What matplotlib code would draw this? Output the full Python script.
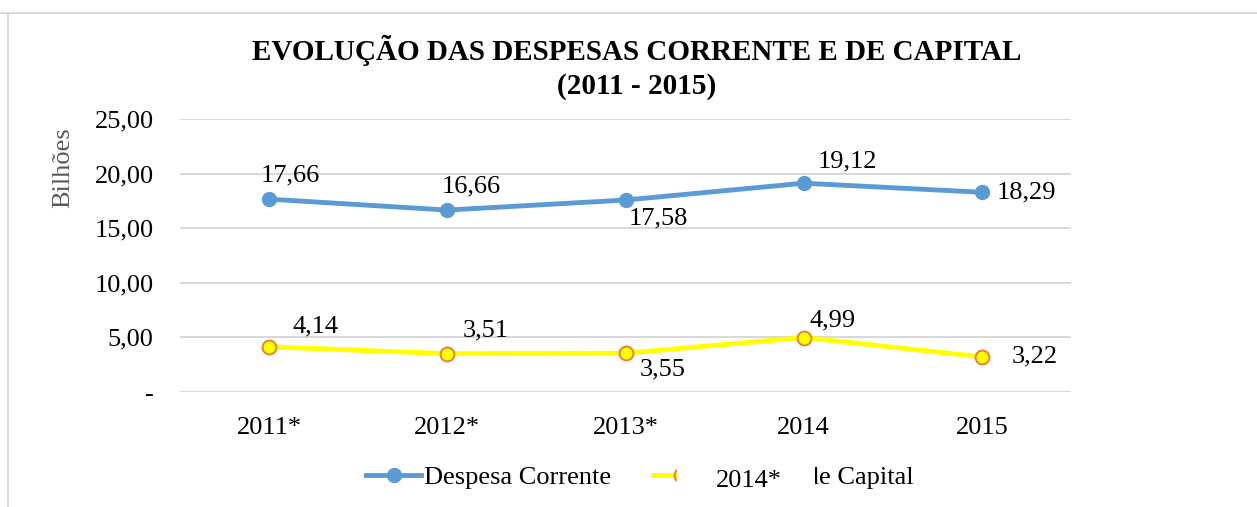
import numpy as np
import matplotlib
matplotlib.use("Agg")
import matplotlib.pyplot as plt
from matplotlib.lines import Line2D
from matplotlib.patches import Rectangle

# Data (billions)
anos = ["2011*", "2012*", "2013*", "2014", "2015"]
corrente = [17.66, 16.66, 17.58, 19.12, 18.29]
capital = [4.14, 3.51, 3.55, 4.99, 3.22]
yticks = [0, 5, 10, 15, 20, 25]

# label offsets in pixels (dx, dy)
off_corr = [(21, 24), (24, 24), (33, -18), (44, 22), (45, 0)]
off_cap = [(46, 20), (38, 23), (37, -16), (29, 17), (53, 0)]

plt.rcParams['font.family'] = ['Liberation Serif', 'DejaVu Serif']

W, H = 1257, 507
fig = plt.figure(figsize=(W / 100, H / 100), dpi=100)
ax = fig.add_axes([180 / W, 1 - 392 / H, (1071 - 180) / W, (392 - 119) / H])

x = np.arange(len(anos))
ax.plot(x, corrente, '-o', color='#5B9BD5', lw=3.5, ms=10, mfc='#5B9BD5',
        mec='#5B9BD5', solid_capstyle='round', zorder=3)
ax.plot(x, capital, '-o', color='#FFFF00', lw=3.5, ms=10, mfc='#FFFF00',
        mec='#ED7D31', mew=1.4, solid_capstyle='round', zorder=3)

fs = 19
for i in range(len(anos)):
    ax.annotate(f"{corrente[i]:.2f}".replace('.', ','), (x[i], corrente[i]),
                xytext=off_corr[i], textcoords='offset pixels',
                ha='center', va='center', fontsize=fs, color='#000000')
    ax.annotate(f"{capital[i]:.2f}".replace('.', ','), (x[i], capital[i]),
                xytext=off_cap[i], textcoords='offset pixels',
                ha='center', va='center', fontsize=fs, color='#000000')

ax.set_xlim(-0.5, len(anos) - 0.5)
ax.set_ylim(0, 25)
ax.set_yticks(yticks)
ax.set_yticklabels(["-" if v == 0 else f"{v:.2f}".replace('.', ',') for v in yticks],
                   fontsize=fs)
ax.set_xticks(x)
ax.set_xticklabels(anos, fontsize=fs)
ax.tick_params(length=0)
ax.tick_params(axis='y', pad=19)
ax.tick_params(axis='x', pad=18)
ax.grid(axis='y', color='#D9D9D9', lw=1.5)
ax.set_axisbelow(True)
for s in ax.spines.values():
    s.set_visible(False)

fig.text(63 / W, 1 - 168 / H, "Bilhões", rotation=90, ha='center', va='center',
         fontsize=fs, color='#595959')

fig.text(637 / W, 1 - 50 / H, "EVOLUÇÃO DAS DESPESAS CORRENTE E DE CAPITAL",
         ha='center', va='center', fontsize=21, fontweight='bold')
fig.text(637 / W, 1 - 87 / H, "(2011 - 2015)",
         ha='center', va='center', fontsize=21, fontweight='bold')

# chart border (top and left visible)
fig.add_artist(Line2D([0, 1], [1 - 13 / H, 1 - 13 / H], transform=fig.transFigure,
                      color='#D9D9D9', lw=1.5))
fig.add_artist(Line2D([8 / W, 8 / W], [0, 1 - 13 / H], transform=fig.transFigure,
                      color='#D9D9D9', lw=1.5))

h1 = Line2D([], [], color='#5B9BD5', lw=3.5, marker='o', ms=10,
            mfc='#5B9BD5', mec='#5B9BD5')
h2 = Line2D([], [], color='#FFFF00', lw=3.5, marker='o', ms=10,
            mfc='#FFFF00', mec='#ED7D31', mew=1.4)
fig.legend([h1, h2], ["Despesa Corrente", "Despesa de Capital"],
           loc='center', bbox_to_anchor=(640 / W, 1 - 477 / H), ncol=2,
           frameon=False, fontsize=fs, handlelength=2.1, handletextpad=0.1,
           columnspacing=1.6)

# stray text box covering part of the legend
fig.add_artist(Rectangle((677 / W, 1 - 502 / H), (815 - 677) / W, 48 / H,
                         transform=fig.transFigure, fc='white', ec='none',
                         zorder=10))
fig.text(749 / W, 1 - 481 / H, "2014*", ha='center', va='center',
         fontsize=fs, zorder=11)

fig.savefig("out.png", dpi=100)
